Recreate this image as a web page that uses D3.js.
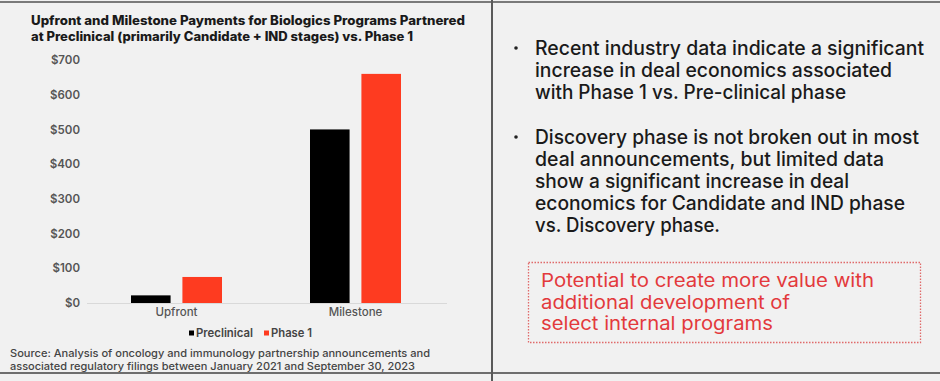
<!DOCTYPE html>
<html>
<head>
<meta charset="utf-8">
<script src="https://cdn.jsdelivr.net/npm/d3@7"></script>
<style>
  html, body { margin: 0; padding: 0; background: #f1f1f1; }
  svg { display: block; font-family: Inter, "Open Sans", sans-serif; }
</style>
</head>
<body>
<script>
var categories = ["Upfront", "Milestone"];
var seriesNames = ["Preclinical", "Phase 1"];
var preclinical = [22, 500];
var phase1 = [75, 660];
var yTicks = [0, 100, 200, 300, 400, 500, 600, 700];
var titleLines = ["Upfront and Milestone Payments for Biologics Programs Partnered",
                  "at Preclinical (primarily Candidate + IND stages) vs. Phase 1"];
var sourceLines = ["Source: Analysis of oncology and immunology partnership announcements and",
                   "associated regulatory filings between January 2021 and September 30, 2023"];
var bullets = [
  ["Recent industry data indicate a significant", "increase in deal economics associated", "with Phase 1 vs. Pre-clinical phase"],
  ["Discovery phase is not broken out in most", "deal announcements, but limited data", "show a significant increase in deal", "economics for Candidate and IND phase", "vs. Discovery phase."]
];
var calloutLines = ["Potential to create more value with", "additional development of", "select internal programs"];

var width = 940, height = 381;
var colors = ["#000000", "#fe3b20"];

var svg = d3.select("body").append("svg")
  .attr("width", width)
  .attr("height", height);

svg.append("rect").attr("width", width).attr("height", height).attr("fill", "#f1f1f1");

// frame lines
svg.append("line").attr("x1", 0).attr("x2", width).attr("y1", 2).attr("y2", 2)
  .attr("stroke", "#7a7a7a").attr("stroke-width", 2);
svg.append("line").attr("x1", 0).attr("x2", width).attr("y1", 373).attr("y2", 373)
  .attr("stroke", "#6e6e6e").attr("stroke-width", 2);
svg.append("line").attr("x1", 492).attr("x2", 492).attr("y1", 0).attr("y2", height)
  .attr("stroke", "#5a5a5a").attr("stroke-width", 2);

// title
svg.append("g").selectAll("text")
  .data(titleLines)
  .enter().append("text")
  .attr("x", 31)
  .attr("y", function(d, i) { return 25 + i * 15.5; })
  .attr("textLength", function(d, i) { return i == 0 ? 434 : 382; })
  .attr("lengthAdjust", "spacingAndGlyphs")
  .style("font-size", "12.5px")
  .style("font-weight", 800)
  .style("fill", "#1a1a1a")
  .text(function(d) { return d; });

// chart
var x0 = d3.scaleBand().domain(categories).range([87, 445]);
var x1 = d3.scaleBand().domain(seriesNames).range([0, 91]).paddingInner(0.23);
var y = d3.scaleLinear().domain([0, 700]).range([303, 60]);

var yAxis = svg.append("g")
  .attr("transform", "translate(80,0)")
  .call(d3.axisLeft(y).tickValues(yTicks).tickSize(0).tickPadding(0).tickFormat(function(d) { return "$" + d; }));
yAxis.select(".domain").remove();
yAxis.selectAll("text")
  .style("font-family", "Inter, sans-serif")
  .style("font-size", "11.5px")
  .style("font-weight", 600)
  .style("fill", "#555");

svg.append("line")
  .attr("x1", 87).attr("x2", 447)
  .attr("y1", y(0) + 0.5).attr("y2", y(0) + 0.5)
  .attr("stroke", "#d9d9d9").attr("stroke-width", 1);

var series = [preclinical, phase1];
var groups = svg.append("g").selectAll("g")
  .data(categories)
  .enter().append("g")
  .attr("transform", function(d) { return "translate(" + (x0(d) + x0.bandwidth() / 2 - 45.5) + ",0)"; });

groups.selectAll("rect")
  .data(function(d, ci) { return seriesNames.map(function(s, si) { return {s: s, si: si, v: series[si][ci]}; }); })
  .enter().append("rect")
  .attr("x", function(d) { return x1(d.s); })
  .attr("width", x1.bandwidth())
  .attr("y", function(d) { return y(d.v); })
  .attr("height", function(d) { return y(0) - y(d.v); })
  .attr("fill", function(d) { return colors[d.si]; });

var xAxis = svg.append("g")
  .attr("transform", "translate(0," + y(0) + ")")
  .call(d3.axisBottom(x0).tickSize(0).tickPadding(5));
xAxis.select(".domain").remove();
xAxis.selectAll("text")
  .style("font-family", "Inter, sans-serif")
  .style("font-size", "11.5px")
  .style("font-weight", 500)
  .style("fill", "#555");

// legend
var legend = svg.append("g").selectAll("g")
  .data(seriesNames)
  .enter().append("g")
  .attr("transform", function(d, i) { return "translate(" + [189, 264][i] + ",333)"; });
legend.append("rect")
  .attr("x", 0).attr("y", -2.5).attr("width", 5).attr("height", 5)
  .attr("fill", function(d, i) { return colors[i]; });
legend.append("text")
  .attr("x", 7).attr("y", 4)
  .attr("textLength", function(d, i) { return [57, 41][i]; })
  .attr("lengthAdjust", "spacingAndGlyphs")
  .style("font-size", "11.5px")
  .style("font-weight", 600)
  .style("fill", "#444")
  .text(function(d) { return d; });

// source
svg.append("g").selectAll("text")
  .data(sourceLines)
  .enter().append("text")
  .attr("x", 10)
  .attr("y", function(d, i) { return 357 + i * 12.5; })
  .attr("textLength", function(d, i) { return i == 0 ? 420 : 405; })
  .attr("lengthAdjust", "spacingAndGlyphs")
  .style("font-size", "10.5px")
  .style("font-weight", 500)
  .style("fill", "#444")
  .text(function(d) { return d; });

// right panel bullets
var lineH = 22;
var bulletTops = [48, 137];
var lineWidths = [[389, 357, 311], [384, 349, 314, 370, 185]];
bullets.forEach(function(lines, bi) {
  var g = svg.append("g");
  g.append("circle").attr("cx", 516).attr("cy", bulletTops[bi]).attr("r", 1.8).attr("fill", "#222");
  g.selectAll("text")
    .data(lines)
    .enter().append("text")
    .attr("x", 535)
    .attr("y", function(d, i) { return bulletTops[bi] + 7 + i * lineH; })
    .attr("textLength", function(d, i) { return lineWidths[bi][i]; })
    .attr("lengthAdjust", "spacingAndGlyphs")
    .style("font-size", "19.5px")
    .style("font-weight", 500)
    .style("fill", "#1a1a1a")
    .text(function(d) { return d; });
});

// callout box
svg.append("rect")
  .attr("x", 528.5).attr("y", 262.5).attr("width", 392).attr("height", 80)
  .attr("fill", "none")
  .attr("stroke", "#e06a6a")
  .attr("stroke-width", 1.3)
  .attr("stroke-dasharray", "1.5,1.5");
var calloutWidths = [333, 249, 232];
svg.append("g").selectAll("text")
  .data(calloutLines)
  .enter().append("text")
  .attr("x", 541)
  .attr("y", function(d, i) { return 287 + i * 21.5; })
  .attr("textLength", function(d, i) { return calloutWidths[i]; })
  .attr("lengthAdjust", "spacingAndGlyphs")
  .style("font-size", "18.5px")
  .style("font-weight", 400)
  .style("fill", "#e3393c")
  .text(function(d) { return d; });
</script>
</body>
</html>
